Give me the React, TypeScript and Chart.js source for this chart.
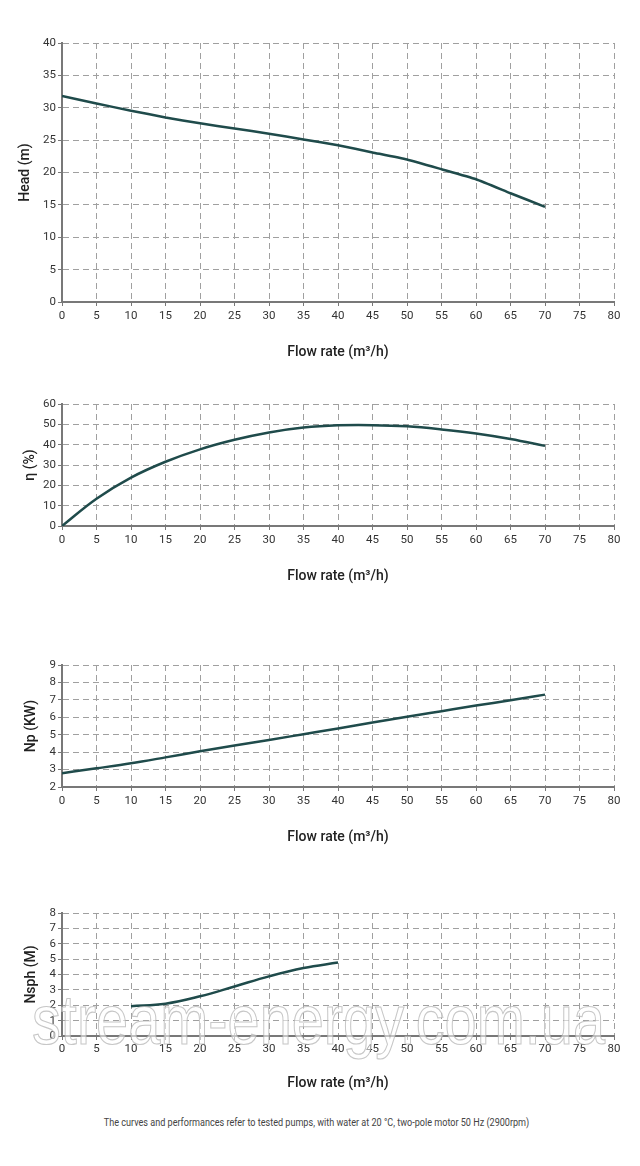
import React, { useEffect, useRef } from 'react';
import { Chart, registerables } from 'chart.js';

Chart.register(...registerables);

// ---------- data ----------
const flowRate = [0, 5, 10, 15, 20, 25, 30, 35, 40, 45, 50, 55, 60, 65, 70];
const headValues = [31.8, 30.65, 29.55, 28.5, 27.6, 26.8, 26.0, 25.1, 24.2, 23.1, 22.0, 20.5, 18.95, 16.8, 14.7];
const efficiencyValues = [0, 13.4, 23.8, 31.6, 37.7, 42.4, 46.0, 48.4, 49.5, 49.6, 49.0, 47.5, 45.5, 42.8, 39.4];
const powerValues = [2.79, 3.07, 3.36, 3.7, 4.05, 4.38, 4.7, 5.03, 5.36, 5.7, 6.03, 6.35, 6.67, 6.98, 7.3];
const npshFlow = [10, 15, 20, 25, 30, 35, 40];
const npshValues = [1.93, 2.1, 2.58, 3.22, 3.88, 4.42, 4.78];

const xTitle = 'Flow rate (m³/h)';
const yTitles = ['Head (m)', 'η (%)', 'Np (KW)', 'Nsph (M)'];
const footnote = 'The curves and performances refer to tested pumps, with water at 20 °C, two-pole motor 50 Hz (2900rpm)';
const watermarkText = 'stream-energy.com.ua';

// ---------- styling / layout ----------
const LINE = '#1f4b4b';
const GRID = '#a0a0a0';
const AXIS = '#787878';
const FONT = 'Roboto';
const PAD_TOP = 10;

type Spec = {
  top: number;
  plotH: number;
  axisH: number;
  tickPad: number;
  yTitle: string;
  yTitlePad: number;
  yMin: number;
  yMax: number;
  yStep: number;
  xs: number[];
  ys: number[];
  tension: number;
  monotone: boolean;
  watermark?: boolean;
};

const specs: Spec[] = [
  { top: 43, plotH: 259, axisH: 59, tickPad: 3, yTitle: yTitles[0], yTitlePad: 17, yMin: 0, yMax: 40, yStep: 5, xs: flowRate, ys: headValues, tension: 0.15, monotone: false },
  { top: 404, plotH: 122, axisH: 59, tickPad: 3, yTitle: yTitles[1], yTitlePad: 22, yMin: 0, yMax: 60, yStep: 10, xs: flowRate, ys: efficiencyValues, tension: 0.4, monotone: false },
  { top: 665, plotH: 122, axisH: 59, tickPad: 3, yTitle: yTitles[2], yTitlePad: 23, yMin: 2, yMax: 9, yStep: 1, xs: flowRate, ys: powerValues, tension: 0.4, monotone: true },
  { top: 913, plotH: 123, axisH: 56, tickPad: 2, yTitle: yTitles[3], yTitlePad: 23, yMin: 0, yMax: 8, yStep: 1, xs: npshFlow, ys: npshValues, tension: 0.4, monotone: false, watermark: true },
];

const watermarkPlugin = {
  id: 'wm',
  afterDraw(chart: any) {
    const ctx = chart.ctx as CanvasRenderingContext2D;
    ctx.save();
    ctx.font = '70px "Liberation Sans", Arial, sans-serif';
    ctx.textBaseline = 'alphabetic';
    ctx.textAlign = 'left';
    ctx.lineWidth = 1.2;
    ctx.fillStyle = 'rgba(255,255,255,0.55)';
    ctx.strokeStyle = 'rgba(175,175,175,0.7)';
    const y = 1044 - (913 - PAD_TOP);
    ctx.fillText(watermarkText, 32, y, 573);
    ctx.strokeText(watermarkText, 32, y, 573);
    ctx.restore();
  },
};

function PumpChart({ spec }: { spec: Spec }) {
  const ref = useRef<HTMLCanvasElement | null>(null);
  const height = PAD_TOP + spec.plotH + spec.axisH;

  useEffect(() => {
    if (!ref.current) return;
    const data = spec.xs.map((x, i) => ({ x, y: spec.ys[i] }));
    const chart = new Chart(ref.current, {
      type: 'line',
      data: {
        datasets: [
          {
            data,
            borderColor: LINE,
            borderWidth: 2.5,
            pointRadius: 0,
            tension: spec.tension,
            cubicInterpolationMode: spec.monotone ? 'monotone' : 'default',
            fill: false,
          },
        ],
      },
      options: {
        responsive: false,
        animation: false,
        devicePixelRatio: 1,
        layout: { padding: { top: PAD_TOP, left: 0, right: 26, bottom: 0 } },
        plugins: { legend: { display: false }, tooltip: { enabled: false } },
        scales: {
          x: {
            type: 'linear',
            min: 0,
            max: 80,
            afterFit: (s: any) => { s.height = spec.axisH; },
            ticks: { stepSize: 5, color: '#333', font: { family: FONT, size: 11.5 }, padding: spec.tickPad, maxRotation: 0, autoSkip: false },
            grid: { color: GRID, lineWidth: 1, tickLength: 4, tickColor: AXIS, tickWidth: 1, tickBorderDash: [] },
            border: { display: true, color: AXIS, width: 2, dash: [6, 4] },
            title: { display: true, text: xTitle, color: '#222', font: { family: FONT, size: 14, weight: '500' }, padding: { top: 0, bottom: 0 } },
          },
          y: {
            type: 'linear',
            min: spec.yMin,
            max: spec.yMax,
            afterFit: (s: any) => { s.width = 62; },
            ticks: { stepSize: spec.yStep, color: '#333', font: { family: FONT, size: 11.5 }, padding: 2, autoSkip: false },
            grid: { color: GRID, lineWidth: 1, tickLength: 4, tickColor: AXIS, tickWidth: 1, tickBorderDash: [] },
            border: { display: true, color: AXIS, width: 2, dash: [6, 4] },
            title: { display: true, text: spec.yTitle, color: '#222', font: { family: FONT, size: 14, weight: '500' }, padding: { top: spec.yTitlePad, bottom: 0 } },
          },
        },
      },
      plugins: spec.watermark ? [watermarkPlugin] : [],
    } as any);
    return () => chart.destroy();
  }, [spec]);

  return (
    <canvas
      ref={ref}
      width={640}
      height={height}
      style={{ position: 'absolute', left: 0, top: spec.top - PAD_TOP, width: 640, height }}
    />
  );
}

export default function App() {
  return (
    <div style={{ position: 'absolute', left: 0, top: 0, width: 640, height: 1166, background: '#fff', overflow: 'hidden' }}>
      {specs.map((s, i) => (
        <PumpChart key={i} spec={s} />
      ))}
      <div
        style={{
          position: 'absolute',
          left: 0,
          top: 1116,
          width: 633,
          textAlign: 'center',
          fontFamily: FONT,
          fontSize: 11,
          lineHeight: '14px',
          color: '#444',
          whiteSpace: 'nowrap',
          transform: 'scaleX(0.825)',
          transformOrigin: 'center',
        }}
      >
        {footnote}
      </div>
    </div>
  );
}
